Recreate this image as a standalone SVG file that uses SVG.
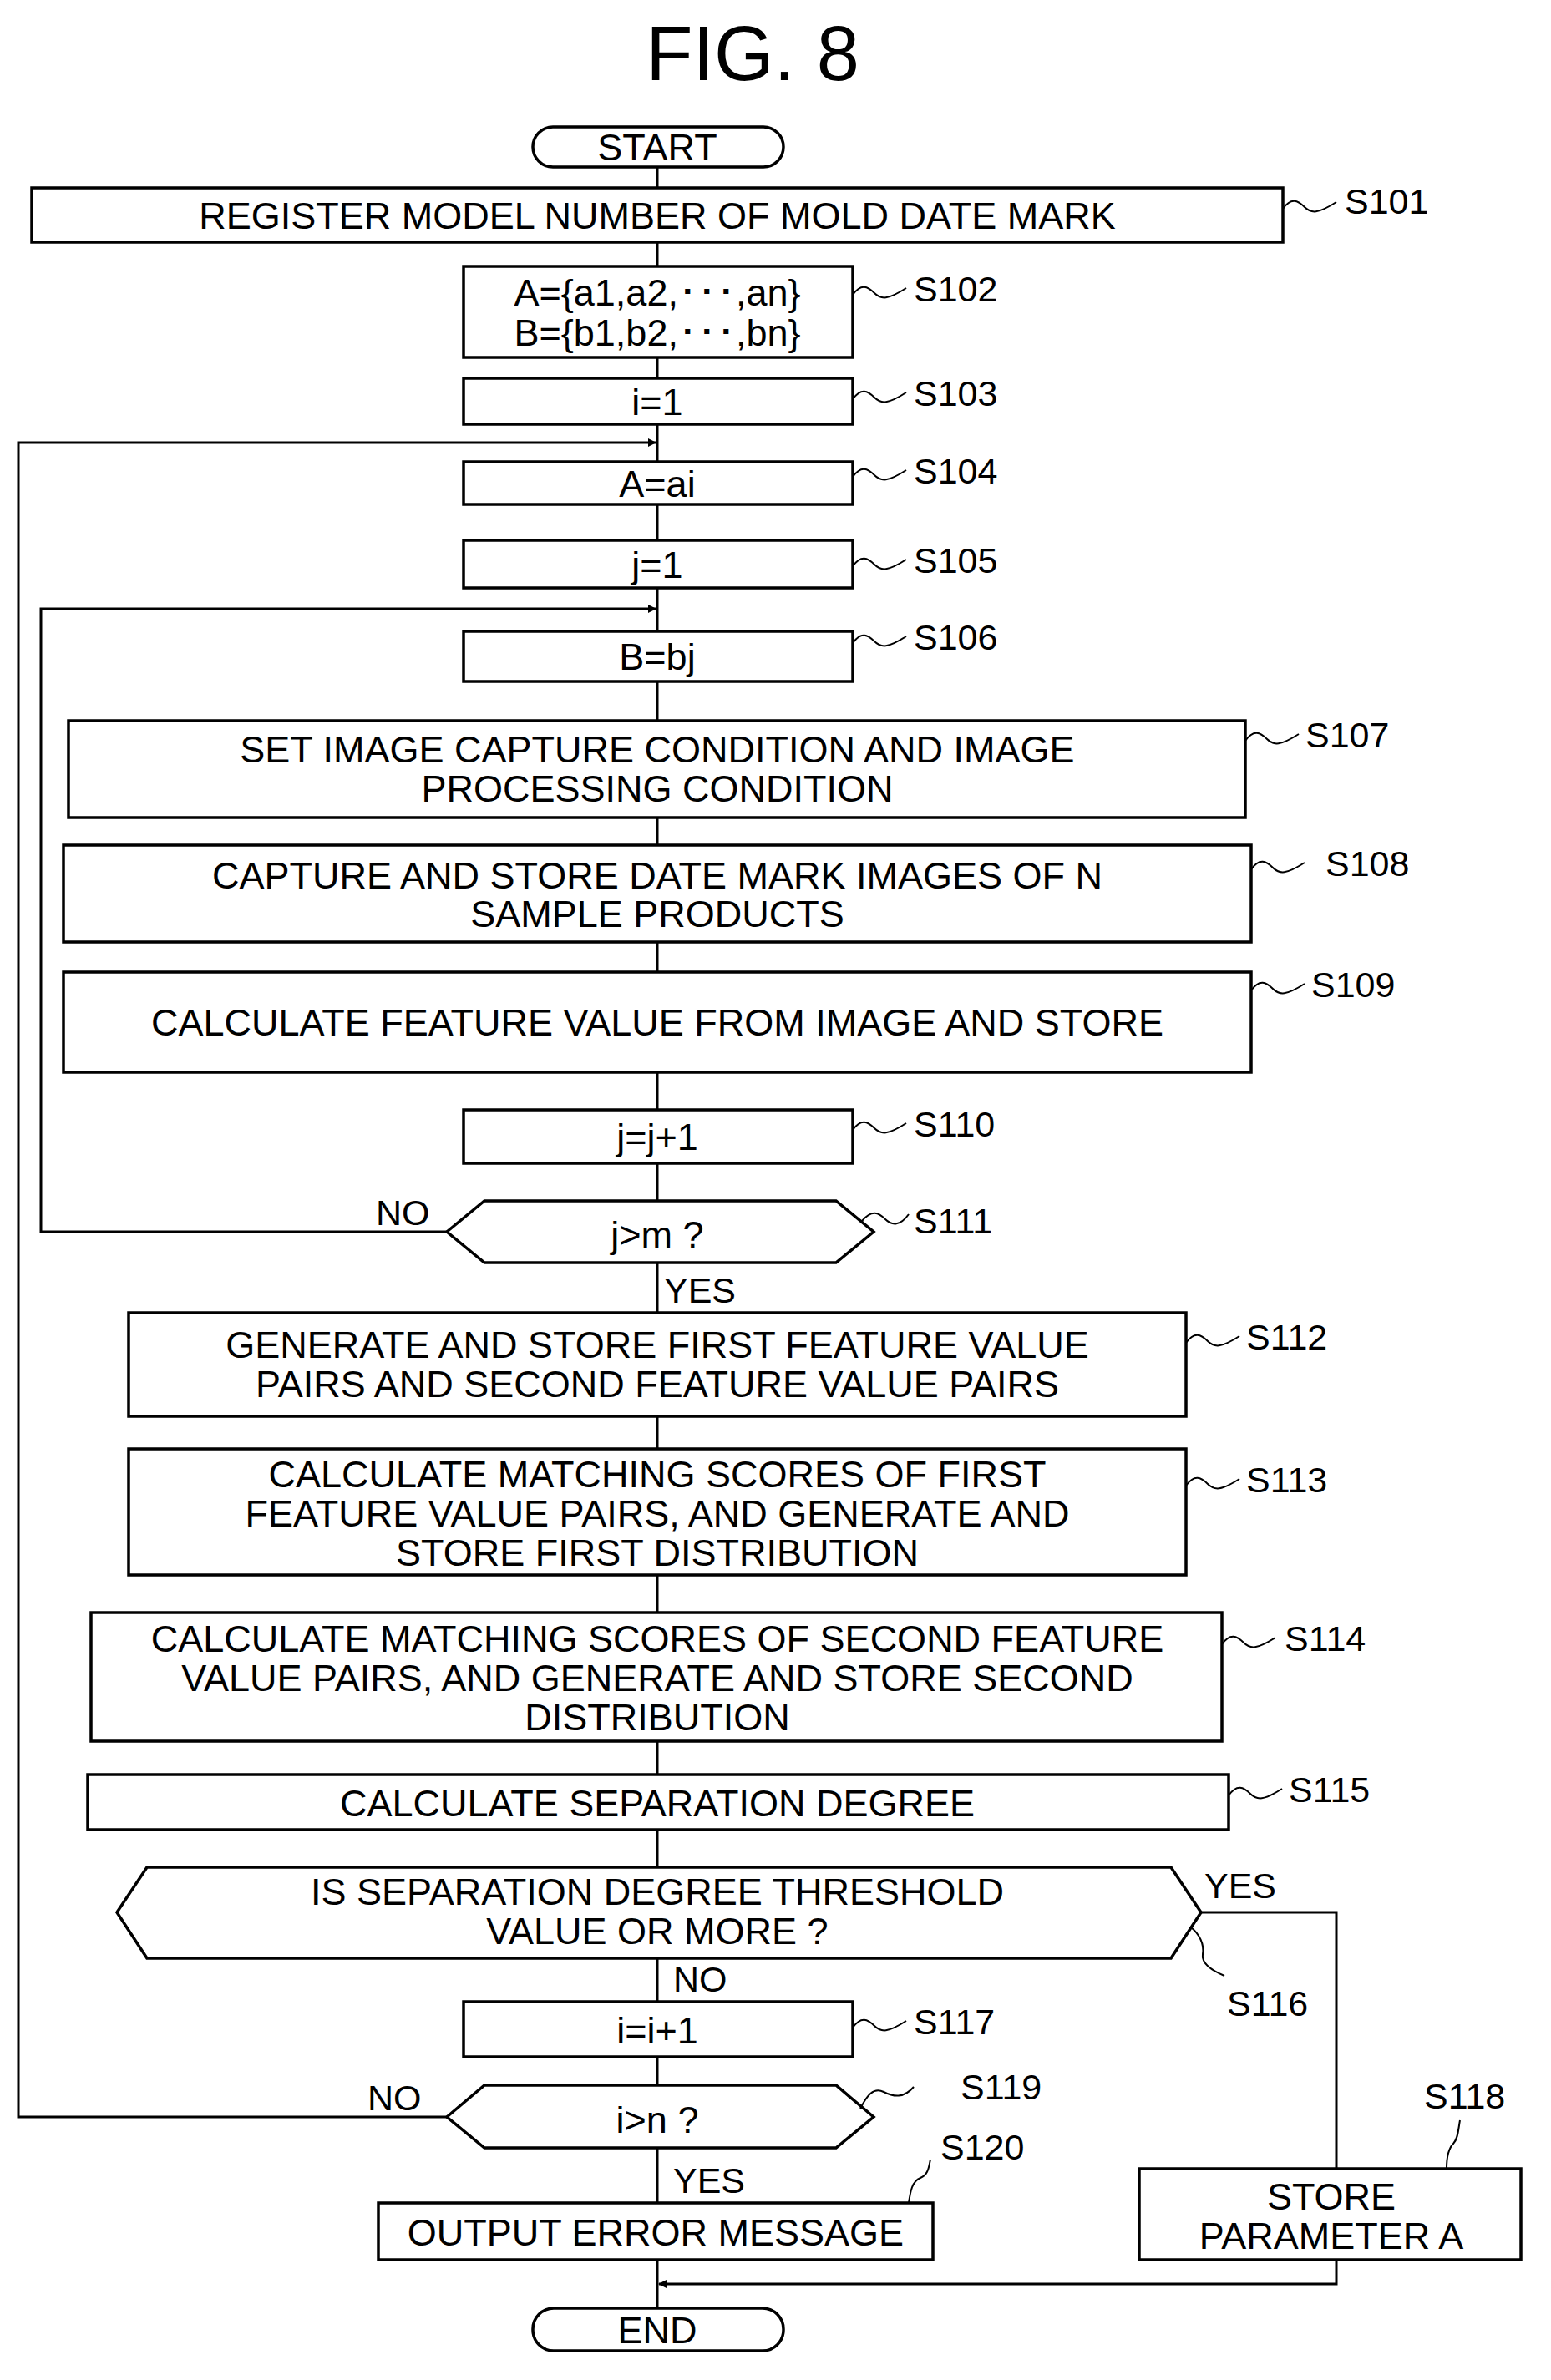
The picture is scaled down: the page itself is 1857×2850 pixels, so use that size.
<svg xmlns="http://www.w3.org/2000/svg" width="1857" height="2850" viewBox="0 0 1857 2850">
<style>
.b{fill:#fff;stroke:#000;stroke-width:3.5}
.t{font-family:"Liberation Sans",Arial,sans-serif;font-size:45px;text-anchor:middle;dominant-baseline:central;fill:#000}
.l{font-family:"Liberation Sans",Arial,sans-serif;font-size:43px;dominant-baseline:central;fill:#000}
.c{fill:none;stroke:#000;stroke-width:3}
.w{fill:none;stroke:#000;stroke-width:2}
</style>
<defs><marker id="a" markerWidth="10" markerHeight="10" refX="9" refY="5" orient="auto" markerUnits="userSpaceOnUse" viewBox="0 0 10 10"><path d="M0 0L10 5L0 10z"/></marker></defs>
<rect width="1857" height="2850" fill="#fff"/>
<text x="901" y="64" class="t" style="font-size:92px">FIG. 8</text>
<g id="connectors">
<path class="c" d="M787 200V225M787 290V319M787 428V453M787 508V553M787 604V647M787 704V756M787 816V863M787 979V1012M787 1128V1164M787 1284V1329M787 1393V1438M787 1512V1572M787 1696V1735M787 1886V1931M787 2085V2125M787 2191V2236M787 2345V2397M787 2463V2497M787 2572V2638M787 2706V2764"/>
<path class="c" d="M535 1475H49V729H785" marker-end="url(#a)"/>
<path class="c" d="M535 2535H22V530H785" marker-end="url(#a)"/>
<path class="c" d="M1438 2290H1600V2597"/>
<path class="c" d="M1600 2706V2735H789" marker-end="url(#a)"/>
<text x="450" y="1452" class="l">NO</text>
<text x="795" y="1545" class="l">YES</text>
<text x="1442" y="2258" class="l">YES</text>
<text x="806" y="2370" class="l">NO</text>
<text x="440" y="2512" class="l">NO</text>
<text x="806" y="2611" class="l">YES</text>
</g>
<g id="START"><rect class="b" x="638" y="152" width="300" height="48" rx="24"/><text x="787" y="176" class="t">START</text></g>
<g id="S101"><rect class="b" x="38" y="225" width="1498" height="65"/><text x="787" y="258" class="t">REGISTER MODEL NUMBER OF MOLD DATE MARK</text><path class="w" d="M1536 250c10-14 18-10 26 -2s16 8 38 -6"/><text x="1610" y="241" class="l">S101</text></g>
<g id="S102"><rect class="b" x="555" y="319" width="466" height="109"/><text x="787" y="350" class="t">A={a1,a2,･･･,an}</text><text x="787" y="398" class="t">B={b1,b2,･･･,bn}</text><path class="w" d="M1021 353c10-14 18-10 26 -2s16 8 38 -6"/><text x="1094" y="346" class="l">S102</text></g>
<g id="S103"><rect class="b" x="555" y="453" width="466" height="55"/><text x="787" y="481" class="t">i=1</text><path class="w" d="M1021 478c10-14 18-10 26 -2s16 8 38 -6"/><text x="1094" y="471" class="l">S103</text></g>
<g id="S104"><rect class="b" x="555" y="553" width="466" height="51"/><text x="787" y="579" class="t">A=ai</text><path class="w" d="M1021 571c10-14 18-10 26 -2s16 8 38 -6"/><text x="1094" y="564" class="l">S104</text></g>
<g id="S105"><rect class="b" x="555" y="647" width="466" height="57"/><text x="787" y="676" class="t">j=1</text><path class="w" d="M1021 678c10-14 18-10 26 -2s16 8 38 -6"/><text x="1094" y="671" class="l">S105</text></g>
<g id="S106"><rect class="b" x="555" y="756" width="466" height="60"/><text x="787" y="786" class="t">B=bj</text><path class="w" d="M1021 770c10-14 18-10 26 -2s16 8 38 -6"/><text x="1094" y="763" class="l">S106</text></g>
<g id="S107"><rect class="b" x="82" y="863" width="1409" height="116"/><text x="787" y="897" class="t">SET IMAGE CAPTURE CONDITION AND IMAGE</text><text x="787" y="944" class="t">PROCESSING CONDITION</text><path class="w" d="M1491 887c10-14 18-10 26 -2s16 8 38 -6"/><text x="1563" y="880" class="l">S107</text></g>
<g id="S108"><rect class="b" x="76" y="1012" width="1422" height="116"/><text x="787" y="1048" class="t">CAPTURE AND STORE DATE MARK IMAGES OF N</text><text x="787" y="1094" class="t">SAMPLE PRODUCTS</text><path class="w" d="M1498 1041c10-14 18-10 26 -2s16 8 38 -6"/><text x="1587" y="1034" class="l">S108</text></g>
<g id="S109"><rect class="b" x="76" y="1164" width="1422" height="120"/><text x="787" y="1224" class="t">CALCULATE FEATURE VALUE FROM IMAGE AND STORE</text><path class="w" d="M1498 1186c10-14 18-10 26 -2s16 8 38 -6"/><text x="1570" y="1179" class="l">S109</text></g>
<g id="S110"><rect class="b" x="555" y="1329" width="466" height="64"/><text x="787" y="1361" class="t">j=j+1</text><path class="w" d="M1021 1353c10-14 18-10 26 -2s16 8 38 -6"/><text x="1094" y="1346" class="l">S110</text></g>
<g id="S111"><polygon class="b" points="535,1475 580,1438 1001,1438 1046,1475 1001,1512 580,1512"/><text x="787" y="1478" class="t">j&gt;m ?</text><path class="w" d="M1032 1462c12-14 20-10 28 -2s18 8 28 -6"/><text x="1094" y="1462" class="l">S111</text></g>
<g id="S112"><rect class="b" x="154" y="1572" width="1266" height="124"/><text x="787" y="1610" class="t">GENERATE AND STORE FIRST FEATURE VALUE</text><text x="787" y="1657" class="t">PAIRS AND SECOND FEATURE VALUE PAIRS</text><path class="w" d="M1420 1608c10-14 18-10 26 -2s16 8 38 -6"/><text x="1492" y="1601" class="l">S112</text></g>
<g id="S113"><rect class="b" x="154" y="1735" width="1266" height="151"/><text x="787" y="1765" class="t">CALCULATE MATCHING SCORES OF FIRST</text><text x="787" y="1812" class="t">FEATURE VALUE PAIRS, AND GENERATE AND</text><text x="787" y="1859" class="t">STORE FIRST DISTRIBUTION</text><path class="w" d="M1420 1779c10-14 18-10 26 -2s16 8 38 -6"/><text x="1492" y="1772" class="l">S113</text></g>
<g id="S114"><rect class="b" x="109" y="1931" width="1354" height="154"/><text x="787" y="1962" class="t">CALCULATE MATCHING SCORES OF SECOND FEATURE</text><text x="787" y="2009" class="t">VALUE PAIRS, AND GENERATE AND STORE SECOND</text><text x="787" y="2056" class="t">DISTRIBUTION</text><path class="w" d="M1463 1969c10-14 18-10 26 -2s16 8 38 -6"/><text x="1538" y="1962" class="l">S114</text></g>
<g id="S115"><rect class="b" x="105" y="2125" width="1366" height="66"/><text x="787" y="2159" class="t">CALCULATE SEPARATION DEGREE</text><path class="w" d="M1471 2150c10-14 18-10 26 -2s16 8 38 -6"/><text x="1543" y="2143" class="l">S115</text></g>
<g id="S116"><polygon class="b" points="140,2290 176,2236 1402,2236 1438,2290 1402,2345 176,2345"/><text x="787" y="2265" class="t">IS SEPARATION DEGREE THRESHOLD</text><text x="787" y="2312" class="t">VALUE OR MORE ?</text><path class="w" d="M1426 2308c10 8 16 20 14 32s12 20 26 26"/><text x="1469" y="2399" class="l">S116</text></g>
<g id="S117"><rect class="b" x="555" y="2397" width="466" height="66"/><text x="787" y="2431" class="t">i=i+1</text><path class="w" d="M1021 2428c10-14 18-10 26 -2s16 8 38 -6"/><text x="1094" y="2421" class="l">S117</text></g>
<g id="S119"><polygon class="b" points="535,2535 580,2497 1001,2497 1046,2535 1001,2572 580,2572"/><text x="787" y="2538" class="t">i&gt;n ?</text><path class="w" d="M1030 2525c8-16 16-26 28-20s24 8 36 -6"/><text x="1150" y="2499" class="l">S119</text></g>
<g id="S120"><rect class="b" x="453" y="2638" width="664" height="68"/><text x="785" y="2673" class="t">OUTPUT ERROR MESSAGE</text><path class="w" d="M1088 2638c2-14 4-26 14-30s10-14 12-22"/><text x="1126" y="2571" class="l">S120</text></g>
<g id="S118"><rect class="b" x="1364" y="2597" width="457" height="109"/><text x="1594" y="2630" class="t">STORE</text><text x="1594" y="2677" class="t">PARAMETER A</text><path class="w" d="M1732 2597c0-14 2-24 8-30s6-18 8-28"/><text x="1705" y="2510" class="l">S118</text></g>
<g id="END"><rect class="b" x="638" y="2764" width="300" height="51" rx="25"/><text x="787" y="2790" class="t">END</text></g>
</svg>
